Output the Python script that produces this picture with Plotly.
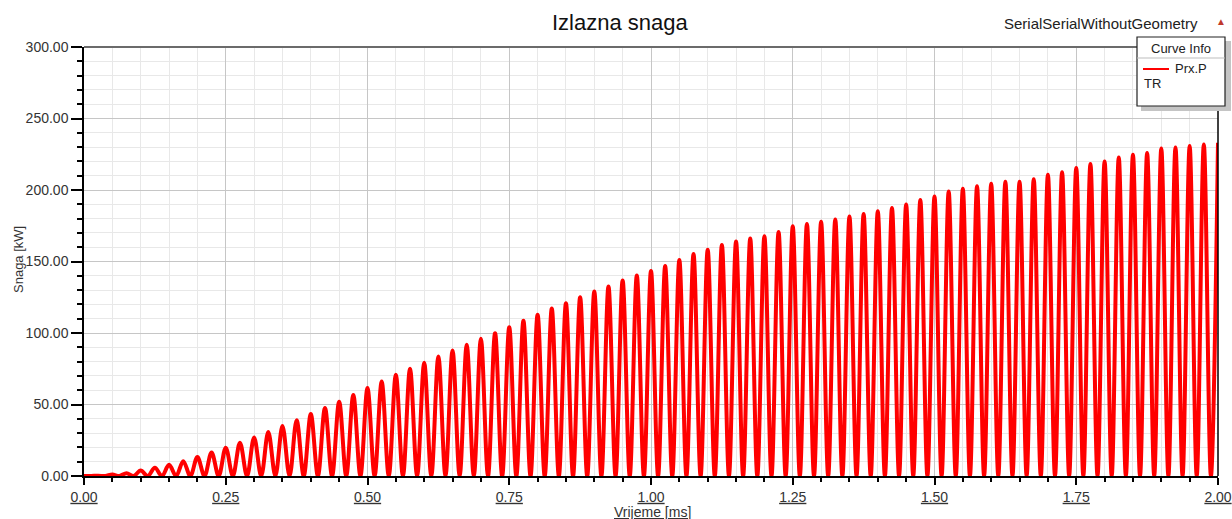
import plotly.graph_objects as go

# Peak instants of the output power ripple [ms] and their values [kW]
peak_ms = [0.000, 0.025, 0.050, 0.075, 0.100, 0.125, 0.150, 0.175, 0.200, 0.225,
           0.250, 0.275, 0.300, 0.325, 0.350, 0.375, 0.400, 0.425, 0.450, 0.475,
           0.500, 0.525, 0.550, 0.575, 0.600, 0.625, 0.650, 0.675, 0.700, 0.725,
           0.750, 0.775, 0.800, 0.825, 0.850, 0.875, 0.900, 0.925, 0.950, 0.975,
           1.000, 1.025, 1.050, 1.075, 1.100, 1.125, 1.150, 1.175, 1.200, 1.225,
           1.250, 1.275, 1.300, 1.325, 1.350, 1.375, 1.400, 1.425, 1.450, 1.475,
           1.500, 1.525, 1.550, 1.575, 1.600, 1.625, 1.650, 1.675, 1.700, 1.725,
           1.750, 1.775, 1.800, 1.825, 1.850, 1.875, 1.900, 1.925, 1.950, 1.975,
           2.000]
peak_kw = [0.0, 0.2, 1.0, 2.0, 3.8, 5.8, 7.8, 10.4, 13.2, 16.5,
           19.8, 23.3, 27.0, 30.8, 35.0, 39.0, 43.3, 47.6, 52.0, 56.7,
           61.5, 66.0, 70.8, 75.0, 79.2, 83.6, 87.8, 91.7, 95.9, 99.9,
           104.0, 108.6, 112.8, 117.1, 120.8, 125.0, 129.0, 132.6, 136.8, 140.2,
           143.4, 146.8, 151.0, 155.2, 158.3, 161.6, 164.0, 166.0, 167.6, 170.6,
           174.6, 176.3, 177.8, 179.4, 181.4, 183.3, 185.1, 187.4, 189.8, 193.0,
           195.5, 199.0, 200.8, 202.6, 204.3, 205.7, 205.8, 207.6, 210.6, 212.4,
           215.4, 218.2, 220.0, 222.8, 224.7, 225.8, 229.1, 229.8, 230.7, 231.9,
           233.0]

# Minima between the peaks [ms] and their values [kW]
trough_ms = [0.0125, 0.0375, 0.0625, 0.0875, 0.1125, 0.1375, 0.1625, 0.1875, 0.2125, 0.2375,
             0.2625, 0.2875, 0.3125, 0.3375, 0.3625, 0.3875, 0.4125, 0.4375, 0.4625, 0.4875,
             0.5125, 0.5375, 0.5625, 0.5875, 0.6125, 0.6375, 0.6625, 0.6875, 0.7125, 0.7375,
             0.7625, 0.7875, 0.8125, 0.8375, 0.8625, 0.8875, 0.9125, 0.9375, 0.9625, 0.9875,
             1.0125, 1.0375, 1.0625, 1.0875, 1.1125, 1.1375, 1.1625, 1.1875, 1.2125, 1.2375,
             1.2625, 1.2875, 1.3125, 1.3375, 1.3625, 1.3875, 1.4125, 1.4375, 1.4625, 1.4875,
             1.5125, 1.5375, 1.5625, 1.5875, 1.6125, 1.6375, 1.6625, 1.6875, 1.7125, 1.7375,
             1.7625, 1.7875, 1.8125, 1.8375, 1.8625, 1.8875, 1.9125, 1.9375, 1.9625, 1.9875]
trough_kw = [0.0] * len(trough_ms)

x_ticks = [0.00, 0.25, 0.50, 0.75, 1.00, 1.25, 1.50, 1.75, 2.00]
y_ticks = [0.00, 50.00, 100.00, 150.00, 200.00, 250.00, 300.00]

# interleave peaks and minima into one time-ordered trace
t, p = [], []
for i in range(len(peak_ms)):
    t.append(peak_ms[i]); p.append(peak_kw[i])
    if i < len(trough_ms):
        t.append(trough_ms[i]); p.append(trough_kw[i])

W, H = 1232, 519
L, R, T, B = 84, 1218, 47, 476


def px(x):
    return (x - L) / (R - L)


def py(y):
    return (B - y) / (B - T)


fig = go.Figure()
fig.add_trace(go.Scatter(
    x=t, y=p, mode="lines",
    line=dict(color="#ff0000", width=4, shape="spline", smoothing=1.0),
    name="Prx.P", showlegend=False, hoverinfo="x+y",
))

font = "Arial, Liberation Sans, sans-serif"

fig.update_layout(
    width=W, height=H, autosize=False,
    margin=dict(l=L, r=W - R, t=T, b=H - B, autoexpand=False),
    paper_bgcolor="white", plot_bgcolor="white",
    font=dict(family=font, color="#333333", size=14),
    showlegend=False,
)

fig.update_xaxes(
    range=[0, 2.0], tickvals=x_ticks, automargin=False,
    ticktext=["<u>%.2f</u>" % v for v in x_ticks],
    tickfont=dict(size=14, color="#333333"),
    showgrid=True, gridcolor="#c6c6c6", gridwidth=1,
    ticks="outside", ticklen=7, tickwidth=2, tickcolor="black",
    showline=True, linecolor="black", linewidth=2, zeroline=False,
    minor=dict(dtick=0.05, showgrid=True, gridcolor="#e8e8e8", gridwidth=1,
               ticks="outside", ticklen=4, tickwidth=2, tickcolor="black"),
)
fig.update_yaxes(
    range=[0, 300], tickvals=y_ticks, automargin=False,
    ticktext=["%.2f" % v for v in y_ticks],
    tickfont=dict(size=14, color="#333333"),
    showgrid=True, gridcolor="#c6c6c6", gridwidth=1,
    ticks="outside", ticklen=11, tickwidth=1.5, tickcolor="black",
    showline=True, linecolor="black", linewidth=1.5, zeroline=False,
    minor=dict(dtick=10, showgrid=True, gridcolor="#e8e8e8", gridwidth=1,
               ticks="outside", ticklen=5, tickwidth=1.5, tickcolor="black"),
)

shapes = [
    # frame: grey top edge, black right edge
    dict(type="line", xref="paper", yref="paper", x0=0, x1=1, y0=1, y1=1,
         line=dict(color="#6b6b6b", width=2)),
    dict(type="line", xref="paper", yref="paper", x0=1, x1=1, y0=0, y1=1,
         line=dict(color="black", width=1.5)),
    # curve info box shadow and box
    dict(type="rect", xref="paper", yref="paper",
         x0=px(1141), x1=px(1231), y0=py(41), y1=py(111),
         fillcolor="#c4c4c4", line=dict(width=0)),
    dict(type="rect", xref="paper", yref="paper",
         x0=px(1137), x1=px(1225), y0=py(37), y1=py(106),
         fillcolor="white", line=dict(color="#222222", width=1.2)),
    dict(type="line", xref="paper", yref="paper",
         x0=px(1137), x1=px(1225), y0=py(58), y1=py(58),
         line=dict(color="#bdbdbd", width=1)),
    dict(type="line", xref="paper", yref="paper",
         x0=px(1143), x1=px(1169), y0=py(69), y1=py(69),
         line=dict(color="#ff0000", width=2)),
]
fig.update_layout(shapes=shapes)

ann = [
    dict(text="Izlazna snaga", x=px(620), y=py(23), font=dict(size=22, color="#111111")),
    dict(text="SerialSerialWithoutGeometry", x=px(1101), y=py(24),
         font=dict(size=15, color="#222222")),
    dict(text="▲", x=px(1221), y=py(21), font=dict(size=10, color="#c0392b")),
    dict(text="Curve Info", x=px(1181), y=py(48), font=dict(size=13, color="#222222")),
    dict(text="Prx.P", x=px(1191), y=py(68), font=dict(size=13, color="#222222")),
    dict(text="TR", x=px(1142), y=py(84), xanchor="left",
         font=dict(size=13, color="#222222")),
    dict(text="<u>Vrijeme [ms]</u>", x=px(652), y=py(512),
         font=dict(size=14, color="#333333")),
    dict(text="Snaga [kW]", x=px(18), y=py(260), textangle=-90,
         font=dict(size=13, color="#333333")),
]
for a in ann:
    a.setdefault("xanchor", "center")
    fig.add_annotation(xref="paper", yref="paper", showarrow=False,
                       yanchor="middle", **a)

fig.write_html("out.html")
